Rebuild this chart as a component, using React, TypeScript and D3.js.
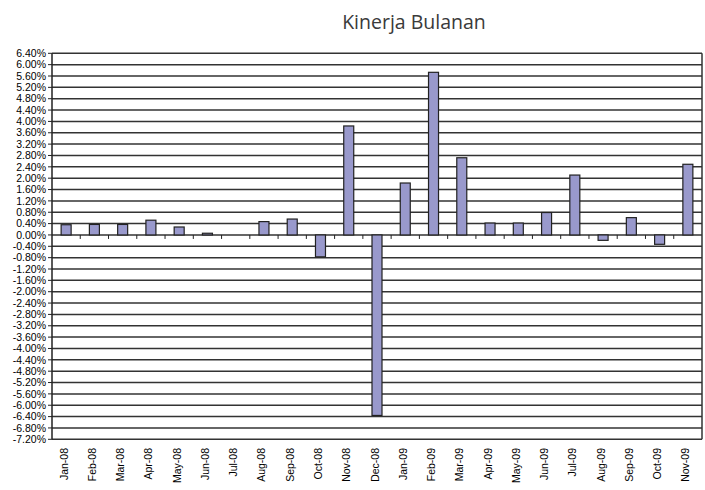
import React from 'react';
import * as d3 from 'd3';

const months = [
  'Jan-08', 'Feb-08', 'Mar-08', 'Apr-08', 'May-08', 'Jun-08', 'Jul-08', 'Aug-08',
  'Sep-08', 'Oct-08', 'Nov-08', 'Dec-08', 'Jan-09', 'Feb-09', 'Mar-09', 'Apr-09',
  'May-09', 'Jun-09', 'Jul-09', 'Aug-09', 'Sep-09', 'Oct-09', 'Nov-09',
];

// monthly return in percent
const returns = [
  0.36, 0.37, 0.37, 0.52, 0.28, 0.06, 0.0, 0.47,
  0.56, -0.77, 3.84, -6.36, 1.83, 5.73, 2.72, 0.42,
  0.42, 0.79, 2.11, -0.19, 0.61, -0.33, 2.49,
];

const yMin = -7.2;
const yMax = 6.4;
const yStep = 0.4;

export default function App() {
  const width = 705;
  const height = 490;
  const left = 52;
  const right = 702;
  const top = 53.3;
  const bottom = 439.3;

  const x = d3.scaleBand<string>().domain(months).range([left, right]);
  const y = d3.scaleLinear().domain([yMin, yMax]).range([bottom, top]);

  const ticks = d3.range(Math.round((yMax - yMin) / yStep) + 1).map(i => yMin + i * yStep);
  const fmt = (v: number) => (Math.abs(v) < 1e-9 ? 0 : v).toFixed(2) + '%';

  const barW = 10;
  const y0 = y(0);

  return (
    <svg width={width} height={height} style={{ position: 'absolute', left: 0, top: 0 }}>
      <rect width={width} height={height} fill="#fff" />
      <text x={414} y={29} textAnchor="middle" fontFamily="'Open Sans', sans-serif" fontSize={19.5} fill="#3a3a3a">
        Kinerja Bulanan
      </text>

      {/* gridlines + y axis labels */}
      {ticks.map(t => (
        <g key={t.toFixed(2)}>
          <line x1={left} x2={right} y1={y(t)} y2={y(t)} stroke="#333" strokeWidth={1.5} />
          <line x1={left - 4} x2={left} y1={y(t)} y2={y(t)} stroke="#222" strokeWidth={1} />
          <text x={left - 6} y={y(t)} dy="0.35em" textAnchor="end"
            fontFamily="'Liberation Sans', Arial, sans-serif" fontSize={10.5} fill="#000">
            {fmt(t)}
          </text>
        </g>
      ))}

      {/* bars */}
      {returns.map((v, i) => {
        if (v === 0) return null;
        const cx = (x(months[i]) as number) + x.bandwidth() / 2;
        const yt = y(Math.max(0, v));
        const h = Math.abs(y(v) - y0);
        return (
          <rect key={months[i]} x={cx - barW / 2} y={yt} width={barW} height={Math.max(h, 1)}
            fill="#9999cc" stroke="#222" strokeWidth={1.2} />
        );
      })}

      {/* category ticks on zero line */}
      {months.slice(1).map(m => (
        <line key={m} x1={x(m) as number} x2={x(m) as number} y1={y0} y2={y0 + 4} stroke="#222" strokeWidth={1} />
      ))}

      {/* plot frame */}
      <line x1={left} x2={left} y1={top} y2={bottom} stroke="#222" strokeWidth={1.5} />
      <line x1={right} x2={right} y1={top} y2={bottom} stroke="#333" strokeWidth={1.5} />

      {/* x labels */}
      {months.map(m => {
        const cx = (x(m) as number) + x.bandwidth() / 2;
        return (
          <text key={m} transform={`translate(${cx + 1.5},448) rotate(-90)`} textAnchor="end"
            fontFamily="'Liberation Sans', Arial, sans-serif" fontSize={10.5} fill="#000">
            {m}
          </text>
        );
      })}
    </svg>
  );
}
